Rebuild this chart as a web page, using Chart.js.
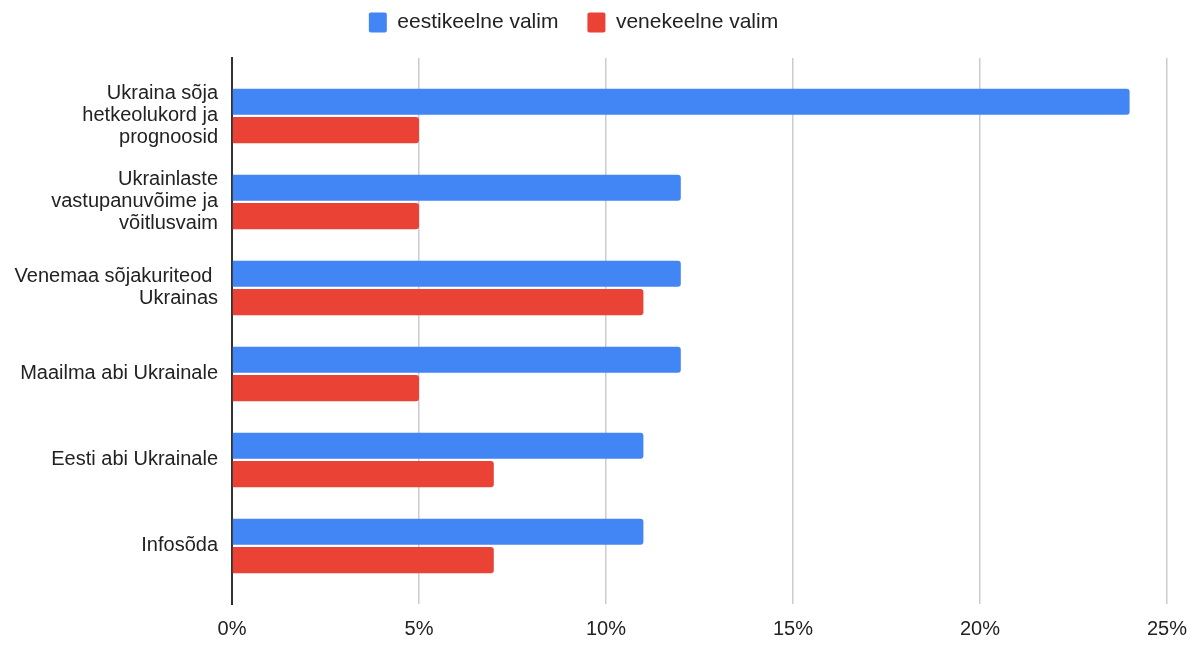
<!DOCTYPE html>
<html lang="et">
<head>
    <meta charset="UTF-8">
    <title>Ukraina sõja teemad</title>
    <script src="https://cdn.jsdelivr.net/npm/chart.js"></script>
    <style>
        body {
            margin: 0;
            padding: 0;
            background: #fff;
        }
        .chart-container {
            position: relative;
            width: 1188px;
            height: 655px;
        }
    </style>
</head>
<body>
    <div class="chart-container">
        <canvas id="barChart"></canvas>
    </div>

    <script>
        // andmed (protsendid)
        const categories = [
            ['Ukraina sõja', 'hetkeolukord ja', 'prognoosid'],
            ['Ukrainlaste', 'vastupanuvõime ja', 'võitlusvaim'],
            ['Venemaa sõjakuriteod ', 'Ukrainas'],
            'Maailma abi Ukrainale',
            'Eesti abi Ukrainale',
            'Infosõda'
        ];
        const seriesNames = ['eestikeelne valim', 'venekeelne valim'];
        const eestiValues = [24, 12, 12, 12, 11, 11];
        const veneValues = [5, 5, 11, 5, 7, 7];
        const xTicks = [0, 5, 10, 15, 20, 25];

        Chart.defaults.font.family = "'Liberation Sans', Arial, sans-serif";
        Chart.defaults.font.size = 20;
        Chart.defaults.color = '#222';

        // legendi kõrgus ja asukoht
        const legendTweak = {
            id: 'legendTweak',
            beforeInit(chart) {
                const origFit = chart.legend.fit;
                chart.legend.fit = function () {
                    origFit.call(this);
                    this.height = 75;
                };
            },
            afterLayout(chart) {
                chart.legend.left -= 10;
                chart.legend.right -= 10;
            }
        };

        new Chart(document.getElementById('barChart').getContext('2d'), {
            type: 'bar',
            data: {
                labels: categories,
                datasets: [{
                    label: seriesNames[0],
                    data: eestiValues,
                    backgroundColor: '#4285F4',
                    borderRadius: 3,
                    categoryPercentage: 0.66,
                    barPercentage: 0.92
                }, {
                    label: seriesNames[1],
                    data: veneValues,
                    backgroundColor: '#EA4335',
                    borderRadius: 3,
                    categoryPercentage: 0.66,
                    barPercentage: 0.92
                }]
            },
            options: {
                indexAxis: 'y',
                responsive: true,
                maintainAspectRatio: false,
                animation: false,
                layout: {
                    padding: { top: -17, right: 21, bottom: 0, left: 0 }
                },
                plugins: {
                    legend: {
                        position: 'top',
                        labels: {
                            boxWidth: 18,
                            boxHeight: 20,
                            padding: 29,
                            useBorderRadius: true,
                            borderRadius: 2,
                            color: '#222',
                            font: { size: 21 }
                        }
                    },
                    tooltip: { enabled: false }
                },
                scales: {
                    x: {
                        min: 0,
                        max: 25,
                        afterBuildTicks: scale => {
                            scale.ticks = xTicks.map(v => ({ value: v }));
                        },
                        afterFit: scale => {
                            scale.height = 51;
                            scale.paddingRight = 0;
                            scale.paddingLeft = 0;
                        },
                        ticks: {
                            padding: 13,
                            color: '#222',
                            callback: v => v + '%'
                        },
                        grid: {
                            color: ctx => ctx.tick && ctx.tick.value === 0 ? '#333' : '#cccccc',
                            lineWidth: 1.5,
                            drawTicks: false
                        },
                        border: { display: false }
                    },
                    y: {
                        afterFit: scale => { scale.width = 232; },
                        afterBuildTicks: scale => {
                            // jätab kategooriate ümber veidi rohkem ruumi
                            scale._startValue = -0.674;
                            scale._valueRange = 6.349;
                        },
                        ticks: {
                            padding: 14,
                            color: '#222',
                            font: { lineHeight: 1.1 }
                        },
                        grid: {
                            drawOnChartArea: false,
                            drawTicks: false
                        },
                        border: { display: true, color: '#333', width: 2 }
                    }
                }
            },
            plugins: [legendTweak]
        });
    </script>
</body>
</html>
